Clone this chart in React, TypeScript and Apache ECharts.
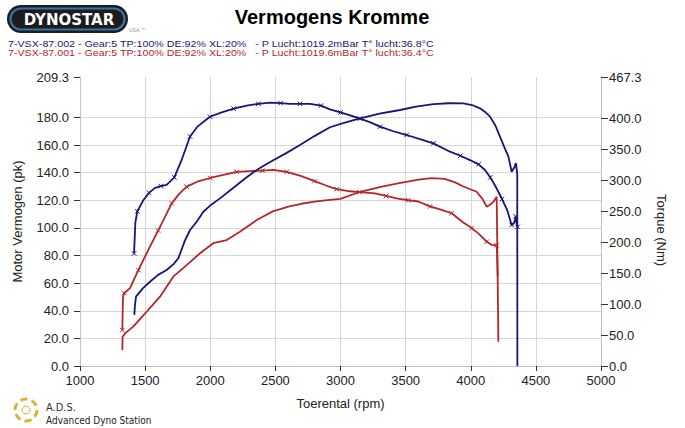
import React, { useEffect, useRef } from "react";
import * as echarts from "echarts";

const xTicks = [1000, 1500, 2000, 2500, 3000, 3500, 4000, 4500, 5000];
const leftTickLabels = [0, 20, 40, 60, 80, 100, 120, 140, 160, 180, 209.3];
const rightTickLabels = [0, 50, 100, 150, 200, 250, 300, 350, 400, 467.3];

// Run 002 (blue)
const blueTorqueRpm = [1415, 1425, 1440, 1486, 1530, 1576, 1620, 1665, 1724, 1780, 1845, 1901, 1998, 2088, 2180, 2280, 2370, 2459, 2540, 2612, 2689, 2766, 2850, 2919, 3000, 3080, 3150, 3230, 3303, 3400, 3508, 3610, 3713, 3841, 3920, 3994, 4060, 4109, 4150, 4194, 4240, 4280, 4314, 4335, 4345, 4352, 4360];
const blueTorqueNm = [182, 232, 250, 268, 280, 288, 291, 293, 305, 333, 371, 387, 403, 410, 416, 421, 424, 426, 425, 424, 424, 424, 421, 415, 410, 405, 400, 394, 387, 380, 373.5, 367, 360, 346.5, 340, 333, 326, 317, 305, 289, 270, 252, 228, 232, 242, 231, 225];
const bluePowerRpm = [1417, 1422, 1430, 1480, 1537, 1600, 1665, 1720, 1755, 1806, 1845, 1900, 1947, 2010, 2075, 2190, 2270, 2357, 2420, 2484, 2580, 2689, 2800, 2919, 3040, 3150, 3300, 3457, 3580, 3713, 3830, 3943, 4010, 4071, 4110, 4148, 4190, 4225, 4260, 4289, 4314, 4335, 4347, 4357, 4358];
const bluePowerPk = [37, 44, 50.2, 56, 61, 66, 69.5, 74, 78, 91, 98.5, 105, 111.7, 117, 121.4, 130, 136, 142, 145.5, 149, 154, 160, 166.5, 172.9, 176.5, 179.4, 182.7, 185.4, 187.8, 189.7, 190.3, 190.2, 189, 186.6, 184, 180.6, 174, 166, 158, 151.6, 140.7, 144, 147, 139, 0];

// Run 001 (red)
const redTorqueRpm = [1325, 1330, 1340, 1384, 1448, 1537, 1600, 1653, 1704, 1760, 1819, 1900, 2000, 2100, 2203, 2300, 2400, 2484, 2587, 2700, 2800, 2900, 2971, 3050, 3145, 3265, 3350, 3431, 3520, 3597, 3687, 3770, 3853, 3943, 4007, 4060, 4122, 4160, 4200, 4207];
const redTorqueNm = [58, 112, 118, 126, 155, 193, 219, 241, 263, 278, 290, 298, 304, 309, 314, 315, 316, 317, 314, 307, 299, 291, 286, 283, 281, 279, 275, 271, 268, 266, 258, 253, 247, 232, 223, 214, 201, 196, 195, 145];
const redPowerRpm = [1325, 1327, 1350, 1409, 1460, 1512, 1560, 1614, 1716, 1819, 1921, 2023, 2126, 2228, 2357, 2480, 2600, 2700, 2800, 2900, 3000, 3145, 3300, 3450, 3600, 3700, 3800, 3880, 3943, 4045, 4090, 4122, 4150, 4175, 4199, 4206, 4212];
const redPowerPk = [11.6, 21.2, 24, 28.5, 34, 39.3, 44.5, 50.2, 64.7, 73.1, 81.6, 88.9, 91.2, 97.3, 105.7, 112, 115.5, 117.5, 119, 120.2, 121, 126, 129.5, 132.5, 135, 136, 135.5, 133, 130, 126.2, 121, 115.4, 117, 119, 122.6, 70, 17.6];

const legendBlue = "7-VSX-87.002 - Gear:5 TP:100% DE:92% XL:20%   - P Lucht:1019.2mBar T° lucht:36.8°C";
const legendRed = "7-VSX-87.001 - Gear:5 TP:100% DE:92% XL:20%   - P Lucht:1019.6mBar T° lucht:36.4°C";

const BLUE = "#16167a";
const RED = "#b5262a";
const GRID = "#d6d6d6";
const FONT = "'Liberation Sans', Arial, sans-serif";
const X_MARK = "path://M0,0L10,10M10,0L0,10";

export default function App() {
  const ref = useRef<HTMLDivElement>(null);
  useEffect(() => {
    if (!ref.current) return;
    const chart = echarts.init(ref.current, undefined, { renderer: "svg" });
    const lineSeries = (name: string, xs: number[], ys: number[], color: string, yAxisIndex: number, marks: boolean) => ({
      name,
      type: "line",
      yAxisIndex,
      data: xs.map((x, i) => ({
        value: [x, ys[i]],
        symbol: marks && i % 2 === 0 ? X_MARK : "none",
      })),
      color,
      showSymbol: marks,
      symbol: marks ? X_MARK : "none",
      symbolSize: 4.5,
      itemStyle: { color, borderColor: color, borderWidth: 1 },
      lineStyle: { color, width: 1.8 },
      emphasis: { disabled: true },
      silent: true,
      z: 3,
    });
    const gold = "#d9b23c";
    const swirl = [0, 60, 120, 180, 240, 300].map((a) => ({
      type: "arc",
      shape: { cx: 26, cy: 410, r: 11, startAngle: (a * Math.PI) / 180, endAngle: ((a + 38) * Math.PI) / 180 },
      style: { stroke: gold, lineWidth: 3, fill: "none" },
    }));
    chart.setOption({
      animation: false,
      backgroundColor: "#ffffff",
      textStyle: { fontFamily: FONT },
      grid: { left: 80, right: 84, top: 77, bottom: 62, containLabel: false },
      xAxis: {
        type: "value",
        min: 1000,
        max: 5000,
        interval: 500,
        name: "Toerental (rpm)",
        nameLocation: "middle",
        nameGap: 31,
        nameTextStyle: { fontSize: 13, color: "#222", fontFamily: FONT },
        axisLine: { show: true, lineStyle: { color: "#c4c4c4", width: 1 } },
        axisTick: { show: true, length: 5, lineStyle: { color: "#333" } },
        axisLabel: { fontSize: 13, color: "#222", margin: 8, customValues: xTicks, formatter: (v: number) => String(v) },
        splitLine: { show: true, lineStyle: { color: GRID, width: 1 } },
      },
      yAxis: [
        {
          type: "value",
          position: "left",
          min: 0,
          max: 209.3,
          interval: 20,
          name: "Motor Vermogen (pk)",
          nameLocation: "middle",
          nameRotate: 90,
          nameGap: 56,
          nameTextStyle: { fontSize: 13, color: "#222", fontFamily: FONT },
          axisLine: { show: true, lineStyle: { color: "#c4c4c4", width: 1 } },
          axisTick: { show: true, length: 6, customValues: leftTickLabels, lineStyle: { color: "#333" } },
          axisLabel: {
            fontSize: 13,
            color: "#222",
            margin: 11,
            customValues: leftTickLabels,
            formatter: (v: number) => (Math.abs(v - 200) < 0.01 ? "" : v.toFixed(1)),
          },
          splitLine: { show: true, showMaxLine: false, lineStyle: { color: GRID, width: 1 } },
        },
        {
          type: "value",
          position: "right",
          min: 0,
          max: 467.3,
          interval: 50,
          axisLine: { show: true, lineStyle: { color: "#c4c4c4", width: 1 } },
          axisTick: { show: true, length: 7, customValues: rightTickLabels, lineStyle: { color: "#333" } },
          axisLabel: {
            fontSize: 13,
            color: "#222",
            margin: 8,
            customValues: rightTickLabels,
            formatter: (v: number) => (Math.abs(v - 450) < 0.01 ? "" : v.toFixed(1)),
          },
          splitLine: { show: false },
        },
      ],
      series: [
        lineSeries("001 Vermogen", redPowerRpm, redPowerPk, RED, 0, false),
        lineSeries("001 Torque", redTorqueRpm, redTorqueNm, RED, 1, true),
        lineSeries("002 Vermogen", bluePowerRpm, bluePowerPk, BLUE, 0, false),
        lineSeries("002 Torque", blueTorqueRpm, blueTorqueNm, BLUE, 1, true),
      ],
      graphic: [
        {
          type: "rect",
          shape: { x: 7, y: 5, width: 121, height: 28, r: 14 },
          style: { fill: "#1c1c1c" },
        },
        {
          type: "rect",
          shape: { x: 10.5, y: 8.5, width: 114, height: 21, r: 10.5 },
          style: { fill: "none", stroke: "#3b6fa8", lineWidth: 2.2 },
        },
        {
          type: "text",
          x: 69,
          y: 19.5,
          style: { text: "DYNOSTAR", fill: "#ffffff", font: "bold 15px 'DejaVu Sans'", align: "center", verticalAlign: "middle" },
        },
        {
          type: "text",
          x: 129,
          y: 30,
          style: { text: "USA ™", fill: "#888", font: "5px 'DejaVu Sans'", align: "left", verticalAlign: "middle" },
        },
        {
          type: "text",
          x: 332,
          y: 17,
          style: { text: "Vermogens Kromme", fill: "#000", font: "bold 20px 'Liberation Sans', Arial", align: "center", verticalAlign: "middle" },
        },
        {
          type: "text",
          x: 8,
          y: 43.5,
          scaleY: 0.85,
          style: { text: legendBlue, fill: BLUE, font: "10.7px 'Liberation Sans', Arial", align: "left", verticalAlign: "middle" },
        },
        {
          type: "text",
          x: 8,
          y: 52.3,
          scaleY: 0.85,
          style: { text: legendRed, fill: RED, font: "10.7px 'Liberation Sans', Arial", align: "left", verticalAlign: "middle" },
        },
        {
          type: "text",
          x: 661,
          y: 230,
          rotation: -Math.PI / 2,
          style: { text: "Torque (Nm)", fill: "#222", font: "13px 'Liberation Sans', Arial", align: "center", verticalAlign: "middle" },
        },
        ...swirl,
        {
          type: "circle",
          shape: { cx: 26, cy: 410, r: 4 },
          style: { fill: "none", stroke: gold, lineWidth: 1 },
        },
        {
          type: "text",
          x: 46,
          y: 407,
          style: { text: "A.D.S.", fill: "#333", font: "11px 'DejaVu Sans Condensed'", align: "left", verticalAlign: "middle" },
        },
        {
          type: "text",
          x: 46,
          y: 420,
          style: { text: "Advanced Dyno Station", fill: "#222", font: "10px 'DejaVu Sans Condensed'", align: "left", verticalAlign: "middle" },
        },
      ],
    });
    return () => chart.dispose();
  }, []);
  return (
    <div
      ref={ref}
      style={{ position: "fixed", left: 0, top: 0, width: 685, height: 428, background: "#fff" }}
    />
  );
}
